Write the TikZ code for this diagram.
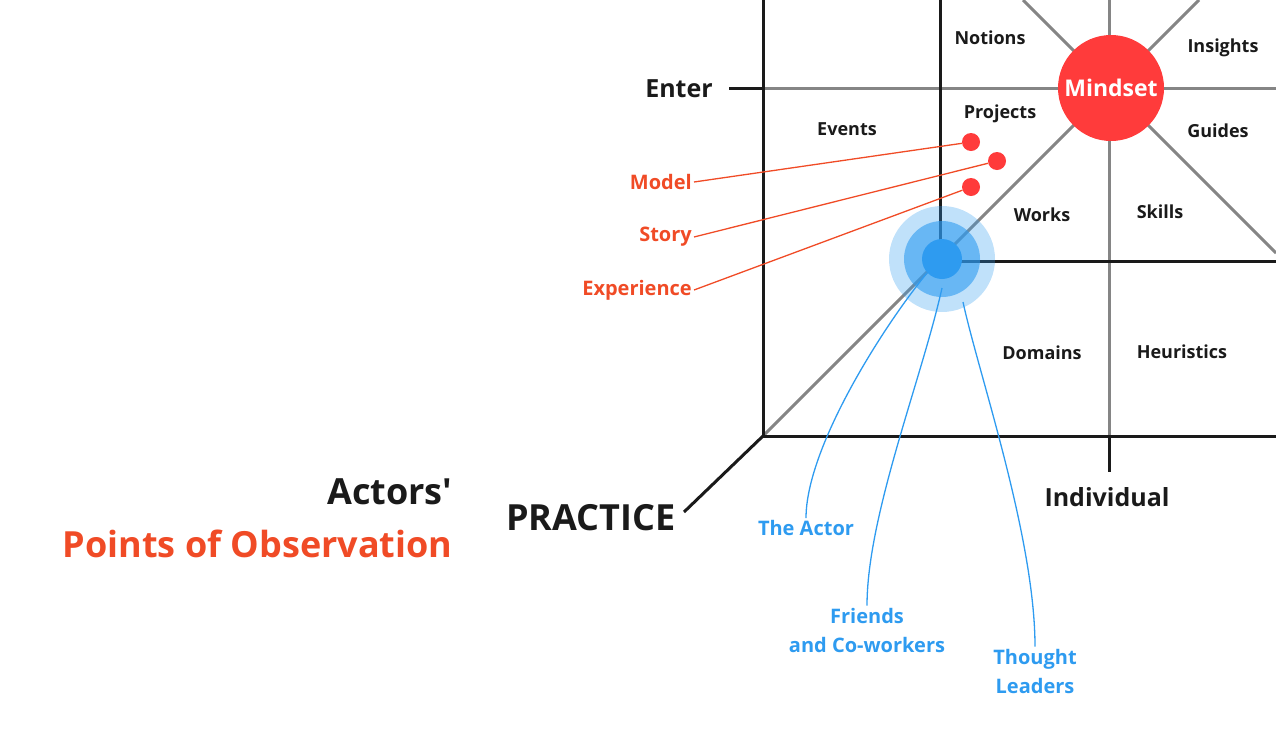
\documentclass[tikz,border=0pt]{standalone}
\usepackage{fontspec}
\setmainfont{Open Sans}
\usetikzlibrary{calc}
\definecolor{obsred}{HTML}{F04B26}
\definecolor{mindred}{HTML}{FF3B3B}
\definecolor{actblue}{HTML}{2E9BF0}
\definecolor{gridgray}{HTML}{858585}
\definecolor{inkblack}{HTML}{1A1A1A}

\begin{document}
\begin{tikzpicture}[x=1pt,y=-1pt,
	cell/.style = {font=\fontsize{18}{20}\selectfont\bfseries, text=inkblack},
	axis label/.style = {font=\fontsize{25}{28}\selectfont\bfseries, text=inkblack},
	big label/.style = {font=\fontsize{36}{40}\selectfont\bfseries},
	obs label/.style = {font=\fontsize{20}{22}\selectfont\bfseries, text=obsred, anchor=east, inner sep=2pt},
	who label/.style = {font=\fontsize{20}{29}\selectfont\bfseries, text=actblue, align=center, inner sep=2pt},
	obs dot/.style = {circle, fill=mindred, inner sep=0pt, minimum size=18pt},
	ring/.style = {circle, fill=actblue, inner sep=0pt},
	grid line/.style = {gridgray, line width=3pt},
	frame line/.style = {inkblack, line width=3pt},
	obs line/.style = {obsred, line width=1.3pt},
	who line/.style = {actblue, line width=1.3pt}]
	\useasboundingbox (0,0) rectangle (1276,729);

	% the grid
	\draw[grid line] (763,88) -- (1276,88);
	\draw[grid line] (1109,0) -- (1109,436);
	\draw[grid line] (763,436) -- (1199,0);
	\draw[grid line] (1023,0) -- (1276,253);
	\draw[frame line] (763,0) -- (763,436) -- (1276,436);
	\draw[frame line] (940,0) -- (940,261) -- (1276,261);
	\draw[frame line] (729,88) -- (763,88);
	\draw[frame line] (763,436) -- (684,512);
	\draw[frame line] (1109,436) -- (1109,472);

	\node[ring, fill opacity=0.3, minimum size=106pt] (halo) at (942,259) {};
	\node[ring, fill opacity=0.6, minimum size=76pt] (glow) at (942,259) {};
	\node[ring, minimum size=40pt] (actor) at (942,259) {};
	\node[circle, fill=mindred, minimum size=106pt, inner sep=0pt, text=white,
		font=\fontsize{23}{26}\selectfont\bfseries] (mindset) at (1111,88) {Mindset};

	\node[cell] (notions) at (990,38) {Notions};
	\node[cell] (insights) at (1223,48) {Insights};
	\node[cell] (projects) at (1000,114) {Projects};
	\node[cell] (events) at (847,129) {Events};
	\node[cell] (guides) at (1218,131) {Guides};
	\node[cell] (works) at (1042,215) {Works};
	\node[cell] (skills) at (1160,212) {Skills};
	\node[cell] (domains) at (1042,353) {Domains};
	\node[cell] (heuristics) at (1182,352) {Heuristics};

	\node[axis label] (enter) at (679,89) {Enter};
	\node[axis label] (individual) at (1107,497) {Individual};
	\node[big label, text=inkblack] (practice) at (591,518) {PRACTICE};
	\node[big label, text=inkblack, anchor=east] (actors) at (456,492) {Actors\textquotesingle};
	\node[big label, text=obsred, anchor=east] (points) at (456,544) {Points of Observation};

	% points of observation
	\node[obs dot] (d1) at (971,142) {};
	\node[obs dot] (d2) at (997,161) {};
	\node[obs dot] (d3) at (971,187) {};
	\node[obs label] (model) at (694,182) {Model};
	\node[obs label] (story) at (694,237) {Story};
	\node[obs label] (experience) at (694,290) {Experience};
	\draw[obs line] (model.east) -- (d1);
	\draw[obs line] (story.east) -- (d2);
	\draw[obs line] (experience.east) -- (d3);

	% actors
	\node[who label] (theactor) at (806,528) {The Actor};
	\node[who label] (friends) at (867,630) {Friends\\and Co-workers};
	\node[who label] (thought) at (1035,671) {Thought\\Leaders};
	\draw[who line] (theactor.north) .. controls +(0,-70) and +(-45,55) .. ($(actor)+(-15,14)$);
	\draw[who line] (friends.north) .. controls +(0,-90) and +(-20,90) .. ($(actor)+(0,29)$);
	\draw[who line] (thought.north) .. controls +(0,-110) and +(15,70) .. ($(actor)+(21,43)$);
\end{tikzpicture}
\end{document}
